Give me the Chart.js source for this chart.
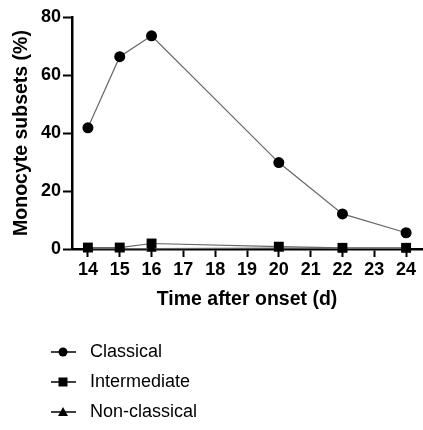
<!DOCTYPE html>
<html>
<head>
<meta charset="utf-8">
<script src="https://cdn.jsdelivr.net/npm/chart.js@4.4.1/dist/chart.umd.min.js"></script>
<style>
  html, body { margin: 0; padding: 0; background: #fff; }
  #wrap { width: 423px; height: 430px; position: relative; }
</style>
</head>
<body>
<div id="wrap"><canvas id="monoChart"></canvas></div>
<script>
"use strict";

// data
const days = [14, 15, 16, 20, 22, 24];
const classical = [41.8, 66.3, 73.5, 29.8, 12.1, 5.6];
const intermediate = [0.5, 0.5, 1.9, 0.8, 0.4, 0.4];
const nonClassical = [0.1, 0.1, 0.1, 0.3, 0.2, 0.2];
const xTicks = [14, 15, 16, 17, 18, 19, 20, 21, 22, 23, 24];
const yTicks = [0, 20, 40, 60, 80];

const FONT = "'Liberation Sans', Arial, sans-serif";

function toPoints(vals) {
  return days.map((d, i) => ({ x: d, y: vals[i] }));
}

// legend drawn as line + marker + label, stacked vertically
const stackedLegend = {
  id: "stackedLegend",
  afterDraw(chart) {
    const ctx = chart.ctx;
    const rows = [352, 382, 412];
    chart.data.datasets.forEach((ds, i) => {
      const y = rows[i];
      ctx.save();
      ctx.strokeStyle = "#000";
      ctx.lineWidth = 1.5;
      ctx.beginPath();
      ctx.moveTo(51, y);
      ctx.lineTo(76, y);
      ctx.stroke();
      ctx.fillStyle = "#000";
      ctx.beginPath();
      if (ds.pointStyle === "circle") {
        ctx.arc(63, y, 4.5, 0, Math.PI * 2);
      } else if (ds.pointStyle === "rect") {
        ctx.rect(58.5, y - 4.5, 9, 9);
      } else {
        ctx.moveTo(63, y - 5);
        ctx.lineTo(68, y + 4);
        ctx.lineTo(58, y + 4);
        ctx.closePath();
      }
      ctx.fill();
      ctx.font = "18px " + FONT;
      ctx.textBaseline = "middle";
      ctx.fillText(ds.label, 90, y);
      ctx.restore();
    });
  },
};

const ctx = document.getElementById("monoChart").getContext("2d");

new Chart(ctx, {
  type: "line",
  data: {
    datasets: [
      {
        label: "Classical",
        data: toPoints(classical),
        pointStyle: "circle",
        pointRadius: 5.5,
      },
      {
        label: "Intermediate",
        data: toPoints(intermediate),
        pointStyle: "rect",
        pointRadius: 7,
      },
      {
        label: "Non-classical",
        data: toPoints(nonClassical),
        pointStyle: "triangle",
        pointRadius: 6,
      },
    ].map((ds) => ({
      ...ds,
      borderColor: "#666",
      borderWidth: 1.2,
      pointBackgroundColor: "#000",
      pointBorderColor: "#000",
      pointBorderWidth: 0,
      pointHoverRadius: ds.pointRadius,
      tension: 0,
      clip: false,
    })),
  },
  options: {
    responsive: true,
    maintainAspectRatio: false,
    animation: false,
    events: [],
    layout: {
      autoPadding: false,
      padding: { top: 17, right: 1, bottom: 111, left: 0 },
    },
    plugins: {
      legend: { display: false },
      tooltip: { enabled: false },
    },
    scales: {
      x: {
        type: "linear",
        min: 13.5,
        max: 24.5,
        afterBuildTicks: (s) => {
          s.ticks = xTicks.map((v) => ({ value: v }));
        },
        afterFit: (s) => {
          s.height = 70;
          s.paddingLeft = 0;
          s.paddingRight = 0;
        },
        border: { color: "#000", width: 2.5 },
        grid: {
          drawOnChartArea: false,
          drawTicks: true,
          tickLength: 8,
          tickWidth: 2,
          tickColor: "#000",
        },
        ticks: {
          color: "#000",
          padding: 2,
          maxRotation: 0,
          font: { family: FONT, size: 18, weight: "bold" },
        },
        title: {
          display: true,
          text: "Time after onset (d)",
          color: "#000",
          padding: { top: 4, bottom: 8 },
          font: { family: FONT, size: 19.5, weight: "bold" },
        },
      },
      y: {
        type: "linear",
        min: 0,
        max: 80,
        afterBuildTicks: (s) => {
          s.ticks = yTicks.map((v) => ({ value: v }));
        },
        afterFit: (s) => {
          s.width = 72;
        },
        border: { color: "#000", width: 2.5 },
        grid: {
          drawOnChartArea: false,
          drawTicks: true,
          tickLength: 9,
          tickWidth: 2,
          tickColor: "#000",
        },
        ticks: {
          color: "#000",
          padding: 2,
          font: { family: FONT, size: 18, weight: "bold" },
        },
        title: {
          display: true,
          text: "Monocyte subsets (%)",
          color: "#000",
          padding: { top: 10, bottom: 0 },
          font: { family: FONT, size: 19.5, weight: "bold" },
        },
      },
    },
  },
  plugins: [stackedLegend],
});
</script>
</body>
</html>
